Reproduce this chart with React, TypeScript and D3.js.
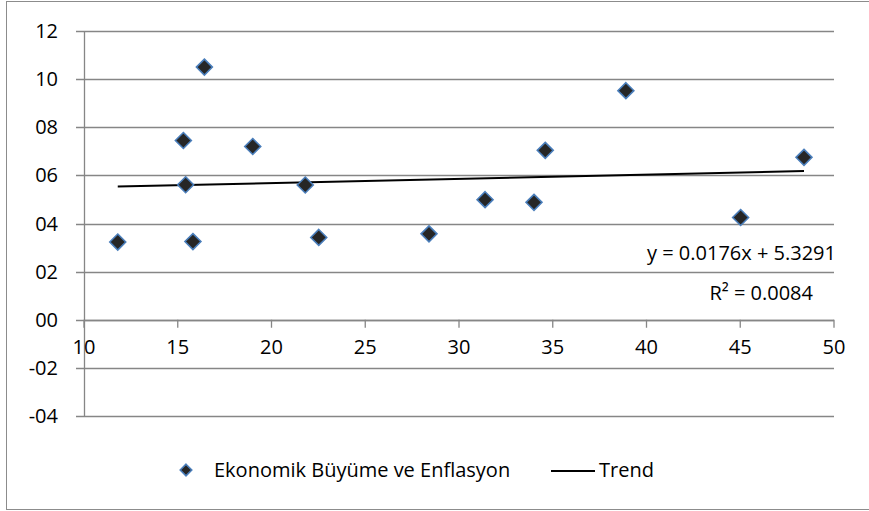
import React from "react";
import * as d3 from "d3";

// Economic growth (x) vs inflation (y) observations
const growth = [11.8, 15.3, 15.42, 15.81, 16.42, 19.0, 21.8, 22.52, 28.4, 31.39, 34.0, 34.6, 38.9, 45.02, 48.4];
const inflation = [3.23, 7.45, 5.61, 3.25, 10.5, 7.2, 5.6, 3.42, 3.57, 4.99, 4.88, 7.04, 9.52, 4.25, 6.75];

const xTicks = [10, 15, 20, 25, 30, 35, 40, 45, 50];
const yTicks = [12, 10, 8, 6, 4, 2, 0, -2, -4];

// Linear trend
const slope = 0.0176;
const intercept = 5.3291;
const rSquared = 0.0084;

const seriesLabel = "Ekonomik Büyüme ve Enflasyon";
const trendLabel = "Trend";

const W = 869;
const H = 511;
const plot = { left: 84, right: 834, top: 31, bottom: 416 };

const FONT = "'Open Sans', 'Noto Sans', sans-serif";
const GRID = "#868686";

const fmtY = (d: number) => (d < 0 ? "-" : "") + String(Math.abs(d)).padStart(2, "0");

function Diamond({ cx, cy, r }: { cx: number; cy: number; r: number }) {
  const sym = d3.symbol(d3.symbolDiamond2, r * r * 2)();
  return (
    <path
      d={sym ?? ""}
      transform={`translate(${cx},${cy})`}
      fill="#262626"
      stroke="#4a7ebb"
      strokeWidth={1.6}
    />
  );
}

export default function App() {
  const x = d3.scaleLinear().domain([10, 50]).range([plot.left, plot.right]);
  const y = d3.scaleLinear().domain([-4, 12]).range([plot.bottom, plot.top]);

  const xMin = d3.min(growth) as number;
  const xMax = d3.max(growth) as number;
  const trendPts: [number, number][] = [xMin, xMax].map((v) => [v, slope * v + intercept]);
  const line = d3
    .line<[number, number]>()
    .x((d) => x(d[0]))
    .y((d) => y(d[1]));

  return (
    <svg
      width={W}
      height={H}
      style={{ position: "absolute", left: 0, top: 0, background: "#fff" }}
      fontFamily={FONT}
    >
      <rect x={6.5} y={1.5} width={870} height={508} fill="#fff" stroke="#8c8c8c" strokeWidth={1} />

      {/* horizontal gridlines with left tick marks */}
      {yTicks.map((t) => (
        <g key={t}>
          <line x1={plot.left - 8} x2={plot.right} y1={Math.round(y(t)) + 0.5} y2={Math.round(y(t)) + 0.5} stroke={GRID} strokeWidth={1.3} />
          <text x={58} y={y(t)} dy="0.35em" textAnchor="end" fontSize={20} fill="#000">
            {fmtY(t)}
          </text>
        </g>
      ))}

      {/* vertical axis */}
      <line x1={plot.left + 0.5} x2={plot.left + 0.5} y1={plot.top} y2={plot.bottom} stroke={GRID} strokeWidth={1.3} />

      {/* horizontal axis at y = 0 */}
      <line x1={plot.left} x2={plot.right} y1={Math.round(y(0)) + 0.5} y2={Math.round(y(0)) + 0.5} stroke={GRID} strokeWidth={1.3} />
      {xTicks.map((t) => (
        <g key={t}>
          <line x1={x(t)} x2={x(t)} y1={y(0)} y2={y(0) + 8} stroke={GRID} strokeWidth={1.3} />
          <text x={x(t)} y={y(0) + 27} dy="0.35em" textAnchor="middle" fontSize={20} fill="#000">
            {t}
          </text>
        </g>
      ))}

      {/* trend line */}
      <path d={line(trendPts) ?? ""} fill="none" stroke="#000" strokeWidth={2} />

      {/* observations */}
      {growth.map((g, i) => (
        <Diamond key={i} cx={x(g)} cy={y(inflation[i])} r={9} />
      ))}

      {/* trend equation */}
      <text x={836} y={260} textAnchor="end" fontSize={20} fill="#000">
        {`y = ${slope}x + ${intercept}`}
      </text>
      <text x={813} y={300} textAnchor="end" fontSize={20} fill="#000">
        {"R² = "}
        {rSquared.toFixed(4)}
      </text>

      {/* legend */}
      <Diamond cx={186} cy={470} r={6.5} />
      <text x={214} y={470} dy="0.35em" fontSize={20} fill="#000">
        {seriesLabel}
      </text>
      <line x1={551} x2={595} y1={471} y2={471} stroke="#000" strokeWidth={2} />
      <text x={599} y={470} dy="0.35em" fontSize={20} fill="#000">
        {trendLabel}
      </text>
    </svg>
  );
}
